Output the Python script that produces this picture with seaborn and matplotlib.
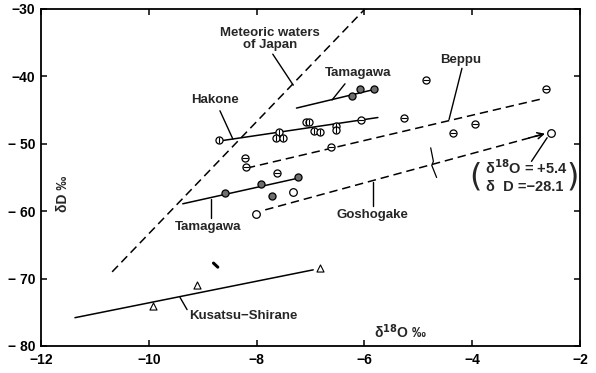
import matplotlib
matplotlib.use("Agg")
import matplotlib.pyplot as plt
import pandas as pd
import seaborn as sns

# Sample groups: δ18O and δD (‰ SMOW)
hakone_o18 = [-8.70, -7.59, -7.64, -7.51, -7.08, -7.02, -6.93, -6.83, -6.53, -6.53]
hakone_d = [-49.4, -48.3, -49.1, -49.2, -46.8, -46.8, -48.1, -48.2, -47.3, -47.9]

beppu_o18 = [-8.22, -8.19, -7.62, -6.62, -6.06, -5.26, -4.86, -4.35, -3.95, -2.63]
beppu_d = [-52.1, -53.5, -54.4, -50.5, -46.5, -46.1, -40.5, -48.4, -47.0, -41.9]

tamagawa_o18 = [-6.23, -6.09, -5.83, -8.58, -7.91, -7.24, -7.71]
tamagawa_d = [-42.9, -41.9, -41.9, -57.3, -55.9, -55.0, -57.7]

goshogake_o18 = [-8.02, -7.33, -2.54]
goshogake_d = [-60.4, -57.2, -48.4]

kusatsu_o18 = [-9.92, -9.10, -6.83]
kusatsu_d = [-74.1, -71.0, -68.4]

# Trend lines (end points)
meteoric_o18 = [-10.68, -5.99]
meteoric_d = [-69.0, -30.0]
hakone_line_o18 = [-8.62, -5.75]
hakone_line_d = [-49.5, -46.1]
tama_up_line_o18 = [-7.26, -5.85]
tama_up_line_d = [-44.7, -42.0]
tama_lo_line_o18 = [-9.37, -7.23]
tama_lo_line_d = [-58.9, -55.1]
beppu_line_o18 = [-8.18, -2.69]
beppu_line_d = [-53.6, -43.3]
gosho_line_o18 = [-7.84, -2.65]
gosho_line_d = [-59.8, -48.5]
kusatsu_line_o18 = [-11.37, -6.95]
kusatsu_line_d = [-75.8, -68.7]

# Scale break on the Goshogake line
break_o18 = [-4.77, -4.72, -4.75, -4.66]
break_d = [-50.6, -52.6, -53.2, -55.0]

x_ticks = [-12, -10, -8, -6, -4, -2]
x_labels = ["−12", "−10", "−8", "−6", "−4", "−2"]
y_ticks = [-80, -70, -60, -50, -40, -30]
y_labels = ["− 80", "− 70", "− 60", "− 50", "−40", "−30"]

sns.set_theme(style="ticks")
plt.rcParams["font.family"] = ["Liberation Sans", "DejaVu Sans"]
plt.rcParams["font.weight"] = "bold"
plt.rcParams["mathtext.default"] = "bf"

fig = plt.figure(figsize=(5.96, 3.73), dpi=100)
ax = fig.add_axes([41 / 596, 1 - 346 / 373, (580 - 41) / 596, (346 - 9) / 373])

LW = 1.1
DASH = (0, (5.5, 3.2))

def line(xs, ys, dashed=False, lw=LW):
    kw = dict(linestyle=DASH) if dashed else {}
    sns.lineplot(x=xs, y=ys, ax=ax, color="black", linewidth=lw,
                 estimator=None, sort=False, **kw)

line(meteoric_o18, meteoric_d, dashed=True)
line(hakone_line_o18, hakone_line_d)
line(tama_up_line_o18, tama_up_line_d)
line(tama_lo_line_o18, tama_lo_line_d)
line(beppu_line_o18, beppu_line_d, dashed=True)
line(gosho_line_o18, gosho_line_d, dashed=True)
line(kusatsu_line_o18, kusatsu_line_d)
line(break_o18, break_d, lw=0.9)

# arrow head at the end of the Goshogake line
ax.annotate("", xy=(gosho_line_o18[1], gosho_line_d[1]),
            xytext=(gosho_line_o18[1] - 0.3, gosho_line_d[1] - 0.64),
            arrowprops=dict(arrowstyle="->", color="black", lw=LW,
                            mutation_scale=11, shrinkA=0, shrinkB=0))

S = 26
# Hakone: open circles with a vertical bar
sns.scatterplot(x=hakone_o18, y=hakone_d, ax=ax, marker="o", s=S,
                color="white", edgecolor="black", linewidth=0.9, zorder=4)
ax.scatter(hakone_o18, hakone_d, marker="|", s=S * 0.9, color="black",
           linewidths=0.8, zorder=5)
# Beppu: open circles with a horizontal bar
sns.scatterplot(x=beppu_o18, y=beppu_d, ax=ax, marker="o", s=S,
                color="white", edgecolor="black", linewidth=0.9, zorder=4)
ax.scatter(beppu_o18, beppu_d, marker="_", s=S * 0.9, color="black",
           linewidths=0.8, zorder=5)
# Tamagawa: filled grey circles
sns.scatterplot(x=tamagawa_o18, y=tamagawa_d, ax=ax, marker="o", s=S,
                color="#6e6e6e", edgecolor="black", linewidth=0.9, zorder=4)
# Goshogake: open circles
sns.scatterplot(x=goshogake_o18, y=goshogake_d, ax=ax, marker="o", s=S + 4,
                color="white", edgecolor="black", linewidth=0.9, zorder=4)
# Kusatsu-Shirane: open triangles
sns.scatterplot(x=kusatsu_o18, y=kusatsu_d, ax=ax, marker="^", s=S,
                color="white", edgecolor="black", linewidth=0.8, zorder=4)

# stray mark
ax.plot([-8.80, -8.72], [-67.7, -68.3], color="black", lw=2.2,
        solid_capstyle="round")

FS = 9.5
def label(x, y, s, lx, ly, **kw):
    ax.text(x, y, s, fontsize=FS, ha="center", va="center",
            fontweight="bold", **kw)
    if lx is not None:
        ax.plot(lx, ly, color="black", lw=1.0)

label(-7.75, -34.4, "Meteoric waters\nof Japan", [-7.70, -7.32], [-36.7, -41.3],
      linespacing=1.0)
label(-8.78, -43.5, "Hakone", [-8.68, -8.44], [-45.1, -49.3])
label(-6.12, -39.5, "Tamagawa", [-6.36, -6.60], [-41.1, -43.5])
label(-8.90, -62.4, "Tamagawa", [-8.85, -8.85], [-58.2, -61.0])
label(-4.22, -37.6, "Beppu", [-4.19, -4.43], [-38.8, -46.4])
label(-5.86, -60.5, "Goshogake", [-5.84, -5.84], [-55.6, -59.3])
label(-8.25, -75.6, "Kusatsu−Shirane", [-9.42, -9.29], [-72.8, -74.6])

# value of the off-scale Goshogake sample
ax.plot([-2.61, -2.90], [-49.1, -52.6], color="black", lw=1.0)
ax.text(-3.0, -53.5, "δ$^{18}$O = +5.4", fontsize=10.5, ha="center", va="center")
ax.text(-3.02, -56.4, "δ  D =−28.1", fontsize=10.5, ha="center", va="center")
ax.text(-3.93, -54.9, "(", fontsize=23, ha="center", va="center",
        fontweight="normal", family="DejaVu Sans")
ax.text(-2.13, -54.9, ")", fontsize=23, ha="center", va="center",
        fontweight="normal", family="DejaVu Sans")

# axis titles placed inside the frame
ax.text(-5.34, -77.9, "δ$^{18}$O ‰", fontsize=10, ha="center", va="center")
ax.text(-11.59, -57.4, "δD ‰", fontsize=10, ha="center", va="center", rotation=90)

ax.set_xlim(-12, -2)
ax.set_ylim(-80, -30)
ax.set_xticks(x_ticks)
ax.set_xticklabels(x_labels)
ax.set_yticks(y_ticks)
ax.set_yticklabels(y_labels)
ax.set_xlabel("")
ax.set_ylabel("")
ax.tick_params(direction="in", length=4, width=1.1, top=True, right=True,
               labelsize=10, colors="black")
ax.tick_params(axis="x", pad=5)
ax.tick_params(axis="y", pad=4)
for lab in ax.get_xticklabels() + ax.get_yticklabels():
    lab.set_fontweight("bold")
for sp in ax.spines.values():
    sp.set_visible(True)
    sp.set_linewidth(1.3)
    sp.set_color("black")
if ax.get_legend() is not None:
    ax.get_legend().remove()

fig.savefig("out.png", dpi=100, facecolor="white")
